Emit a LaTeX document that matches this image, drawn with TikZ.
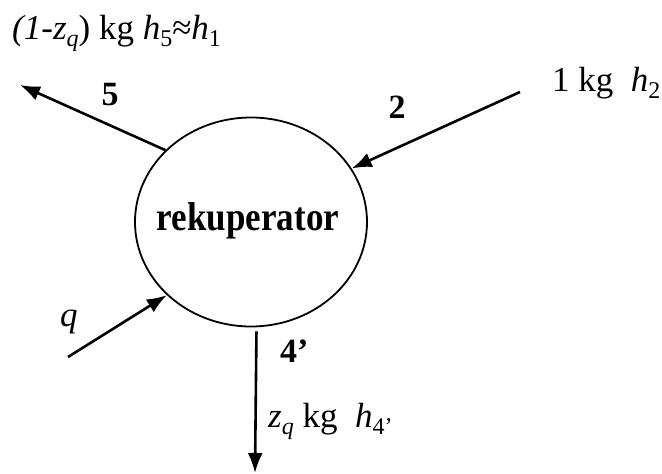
\documentclass[tikz,border=0pt]{standalone}
\usepackage{fontspec}
\setmainfont{Liberation Serif}
\usetikzlibrary{arrows.meta,shapes.geometric}
\newcommand\lsub[1]{\raisebox{-0.2em}{\fontsize{24}{24}\selectfont #1}}
\tikzset{
  lbl/.style={inner sep=0pt,font=\fontsize{35}{38}\selectfont},
  num/.style={inner sep=0pt,font=\fontsize{34}{38}\selectfont\bfseries},
  flow/.style={line width=2.6pt,-{Latex[length=20pt,width=15pt]}},
}
\begin{document}
\begin{tikzpicture}[x=1pt,y=-1pt]
\useasboundingbox (0,0) rectangle (662,474);
\node[ellipse,draw,line width=1.8pt,minimum width=232pt,minimum height=209pt,inner sep=0pt] (rek) at (251,222) {};
\node[inner sep=0pt,anchor=base,font=\fontsize{35}{38}\selectfont\bfseries] (rt) at (248,230) {\scalebox{1}[1.15]{rekuperator}};
\coordinate (e5) at (20,85);
\coordinate (e2) at (520,92);
\coordinate (eq) at (68,357);
\coordinate (e4) at (255,473);
\draw[flow] (rek.140) -- (e5);
\draw[flow] (e2) -- (rek.28);
\draw[flow] (eq) -- (rek.221.8);
\draw[flow,shorten <=4pt] (rek.273.6) -- (e4);
\node[lbl,anchor=base west] (t5) at (12,39) {\textit{(1-z}\lsub{\textit{q}})~kg \textit{h}\lsub{5}≈\textit{h}\lsub{1}};
\node[lbl,anchor=base west] (t2) at (552,91) {1~kg~~\textit{h}\lsub{2}};
\node[lbl,anchor=base west] (tq) at (60,326) {\textit{q}};
\node[lbl,anchor=base west] (t4) at (268,427) {\textit{z}\lsub{\textit{q}}~kg~~\textit{h}\lsub{4'}};
\node[num,anchor=base] (n5) at (110,105) {5};
\node[num,anchor=base] (n2) at (397,118) {2};
\node[num,anchor=base west] (n4) at (280,362) {4’};
\end{tikzpicture}
\end{document}
